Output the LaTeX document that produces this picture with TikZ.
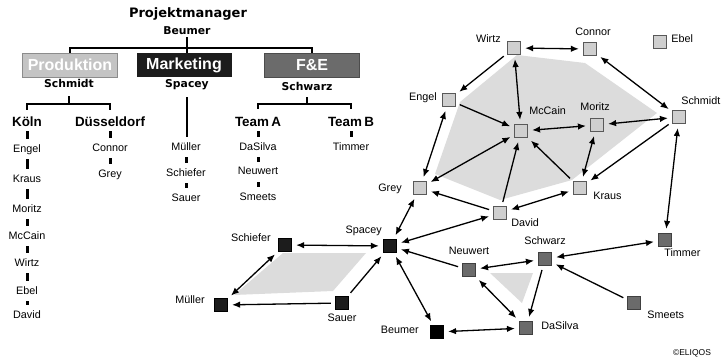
\documentclass[tikz,border=0pt]{standalone}
\usepackage{fontspec}
\setmainfont{Liberation Sans}
\newfontfamily\verdfont{DejaVu Sans}
\usetikzlibrary{arrows.meta}
\definecolor{hullgray}{HTML}{DCDCDC}
\definecolor{prodgray}{HTML}{CFCFCF}
\definecolor{fuegray}{HTML}{6B6B6B}
\definecolor{mktblack}{HTML}{1C1C1C}
\tikzset{
  person/.style={draw=black!65, line width=0.7pt, minimum size=13.5pt, inner sep=0pt},
  prodp/.style={person, fill=prodgray},
  mktp/.style={person, fill=mktblack, draw=black},
  fuep/.style={person, fill=fuegray, draw=black!75},
  every label/.style={font=\fontsize{10.8}{12}\selectfont, inner sep=1pt,
    text height=8pt, text depth=2pt},
  boss/.style={font=\verdfont\bfseries\fontsize{10.8}{12}\selectfont,
    inner sep=0pt, text height=8pt, text depth=2pt},
  dept/.style={font=\bfseries\fontsize{16}{18}\selectfont, text=white,
    minimum width=95pt, minimum height=24pt, inner sep=0pt},
  unit/.style={font=\bfseries\fontsize{13.4}{15}\selectfont, inner sep=0pt,
    text height=10pt, text depth=0pt},
  member/.style={font=\fontsize{10.8}{12}\selectfont, inner sep=0pt,
    text height=8pt, text depth=2pt},
  orgline/.style={line width=2.2pt},
  tick/.style={line width=3pt, shorten >=5pt, shorten <=5pt},
  arr/.style={-{Latex[length=8pt,width=6.5pt]}, line width=1.3pt,
    shorten >=4pt, shorten <=4pt},
  twoway/.style={arr, {Latex[length=8pt,width=6.5pt]}-{Latex[length=8pt,width=6.5pt]}},
  hull/.style={fill=hullgray}
}

\begin{document}
\begin{tikzpicture}[x=1pt, y=-1pt]
\useasboundingbox (0,0) rectangle (721,361);

% org chart
\node[font=\verdfont\bfseries\fontsize{13}{15}\selectfont] (pm) at (188,14) {Projektmanager};
\node[boss] (pmname) at (187,32) {Beumer};
\node[dept, fill=black!23, draw=black!45] (prod) at (70,65) {Produktion};
\node[dept, fill=mktblack] (mkt) at (184,65) {Marketing};
\node[dept, fill=fuegray, draw=black!70] (fue) at (312,65) {F\&E};
\draw[orgline] (prod.north) -- ++(0,-5) -| (fue.north);
\draw[orgline] (pmname.south) -- (pmname.south |- mkt.north);

\node[boss] (prodhead) at (69,85) {Schmidt};
\node[boss] (mkthead) at (187,85) {Spacey};
\node[boss] (fuehead) at (307,88) {Schwarz};

\node[unit] (koeln) at (27,121) {Köln};
\node[unit] (dus) at (110,121) {Düsseldorf};
\draw[orgline, shorten <=6pt, shorten >=6pt] (koeln.north) -- ++(0,-12) -| (dus.north);
\draw[orgline, shorten <=6pt] (prodhead.south) -- ++(0,14);

\node[unit] (teama) at (258,121) {Team\,A};
\node[unit] (teamb) at (351,121) {Team\,B};
\draw[orgline, shorten <=7pt, shorten >=7pt] (teama.north) -- ++(0,-11.5) -| (teamb.north);
\draw[orgline, shorten <=4pt] (fuehead.south) -- ++(0,11.5);

% Koeln
\node[member] (lengel) at (27,149) {Engel};
\node[member] (lkraus) at (27,179) {Kraus};
\node[member] (lmoritz) at (27,209) {Moritz};
\node[member] (lmccain) at (27,236) {McCain};
\node[member] (lwirtz) at (27,263) {Wirtz};
\node[member] (lebel) at (27,291) {Ebel};
\node[member] (ldavid) at (27,315) {David};
\draw[tick] (koeln) -- (lengel);
\draw[tick] (lengel) -- (lkraus);
\draw[tick] (lkraus) -- (lmoritz);
\draw[tick] (lmoritz) -- (lmccain);
\draw[tick] (lmccain) -- (lwirtz);
\draw[tick] (lwirtz) -- (lebel);
\draw[tick] (lebel) -- (ldavid);

% Duesseldorf
\node[member] (lconnor) at (110,148) {Connor};
\node[member] (lgrey) at (110,174) {Grey};
\draw[tick] (dus) -- (lconnor);
\draw[tick] (lconnor) -- (lgrey);

% Marketing
\node[member] (lmueller) at (186,147) {Müller};
\node[member] (lschiefer) at (186,173) {Schiefer};
\node[member] (lsauer) at (186,198) {Sauer};
\draw[orgline, shorten <=7pt, shorten >=5pt] (mkthead.south) -- (mkthead.south |- lmueller.north);
\draw[tick] (lmueller) -- (lschiefer);
\draw[tick] (lschiefer) -- (lsauer);

% Team A / B
\node[member] (ldasilva) at (258,147) {DaSilva};
\node[member] (lneuwert) at (258,172) {Neuwert};
\node[member] (lsmeets) at (258,197) {Smeets};
\node[member] (ltimmer) at (351,147) {Timmer};
\draw[tick] (teama) -- (ldasilva);
\draw[tick] (ldasilva) -- (lneuwert);
\draw[tick] (lneuwert) -- (lsmeets);
\draw[tick] (teamb) -- (ltimmer);

% network: hulls
\fill[hull] (517,55) -- (585,63) -- (657,113) -- (572,180) -- (500,200)
  -- (435,174) -- (460,102) -- cycle;
\fill[hull] (283,253) -- (366,253) -- (333,291) -- (234,295) -- cycle;
\fill[hull] (490,273) -- (533,273) -- (522,303) -- cycle;

% network: Produktion
\node[prodp, label={[xshift=-5pt,yshift=8pt]left:Wirtz}] (wirtz) at (514,48) {};
\node[prodp, label={[xshift=3pt,yshift=3pt]above:Connor}] (connor) at (590,49) {};
\node[prodp, label={[xshift=3pt,yshift=2pt]right:Ebel}] (ebel) at (660,42) {};
\node[prodp, label={[xshift=-4pt,yshift=3pt]left:Engel}] (engel) at (449,100) {};
\node[prodp, label={[yshift=6pt]above right:McCain}] (mccain) at (521,131) {};
\node[prodp, label={[xshift=-2pt,yshift=4pt]above:Moritz}] (moritz) at (597,125) {};
\node[prodp, label={[xshift=-6pt,yshift=2pt]above right:Schmidt}] (schmidt) at (679,117) {};
\node[prodp, label={[xshift=-10pt]left:Grey}] (grey) at (420,188) {};
\node[prodp, label={[xshift=3pt,yshift=3pt]below right:David}] (david) at (500,213) {};
\node[prodp, label={[xshift=5pt,yshift=-8pt]right:Kraus}] (kraus) at (580,188) {};

% network: Marketing
\node[mktp, label={[yshift=2pt]above left:Spacey}] (spacey) at (390,246) {};
\node[mktp, label={[xshift=-6pt,yshift=7pt]left:Schiefer}] (schiefer) at (285,245) {};
\node[mktp, label={[xshift=-8pt,yshift=5pt]left:Müller}] (mueller) at (221,305) {};
\node[mktp, label={[yshift=-2pt]below:Sauer}] (sauer) at (342,303) {};
\node[mktp, fill=black, label={[xshift=-10pt,yshift=2pt]left:Beumer}] (beumer) at (437,332) {};

% network: F&E
\node[fuep, label={[yshift=5pt]above:Neuwert}] (neuwert) at (469,270) {};
\node[fuep, label={[yshift=4pt]above:Schwarz}] (schwarz) at (545,259) {};
\node[fuep, label={[xshift=7pt,yshift=2pt]right:DaSilva}] (dasilva) at (526,328) {};
\node[fuep, label={[xshift=-9pt]below right:Timmer}] (timmer) at (665,240) {};
\node[fuep, label={[xshift=5pt,yshift=1pt]below right:Smeets}] (smeets) at (634,303) {};

% links
\draw[twoway] (wirtz) -- (connor);
\draw[arr] (wirtz) -- (engel);
\draw[twoway] (wirtz) -- (mccain);
\draw[twoway] (connor) -- (schmidt);
\draw[arr] (engel) -- (mccain);
\draw[twoway] (engel) -- (grey);
\draw[twoway] (mccain) -- (moritz);
\draw[twoway] (moritz) -- (schmidt);
\draw[twoway] (grey) -- (mccain);
\draw[arr] (david) -- (mccain);
\draw[arr] (kraus) -- (mccain);
\draw[twoway] (moritz) -- (kraus);
\draw[arr] (schmidt) -- (kraus);
\draw[arr] (david) -- (grey);
\draw[twoway] (david) -- (kraus);
\draw[twoway] (schmidt) -- (timmer);
\draw[twoway] (spacey) -- (grey);
\draw[twoway] (spacey) -- (david);
\draw[twoway] (spacey) -- (schiefer);
\draw[twoway] (schiefer) -- (mueller);
\draw[arr] (sauer) -- (mueller);
\draw[arr] (sauer) -- (spacey);
\draw[arr] (neuwert) -- (spacey);
\draw[twoway] (spacey) -- (beumer);
\draw[twoway] (beumer) -- (dasilva);
\draw[twoway] (neuwert) -- (schwarz);
\draw[twoway] (neuwert) -- (dasilva);
\draw[arr] (schwarz) -- (dasilva);
\draw[twoway] (schwarz) -- (timmer);
\draw[arr] (smeets) -- (schwarz);

\node[font=\fontsize{8.5}{10}\selectfont, inner sep=0pt] (copy) at (692,353) {\textcopyright ELIQOS};
\end{tikzpicture}
\end{document}
